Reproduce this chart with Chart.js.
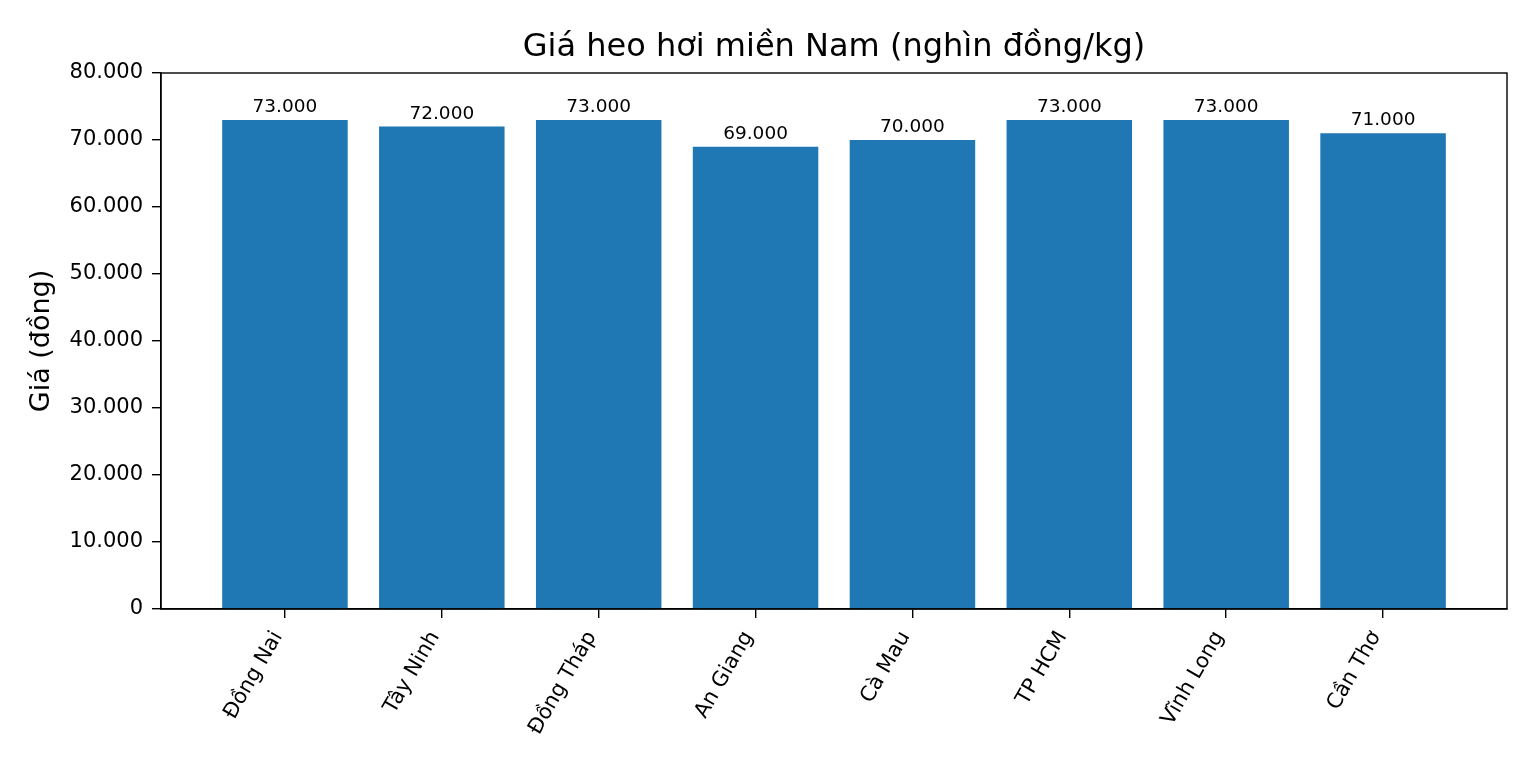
<!DOCTYPE html>
<html>
<head>
<meta charset="utf-8">
<script src="https://cdn.jsdelivr.net/npm/chart.js@4.4.1/dist/chart.umd.min.js"></script>
<style>
  body { margin: 0; background: #fff; }
  canvas { display: block; }
</style>
</head>
<body>
<canvas id="barChart" width="1535" height="768"></canvas>
<script>
const provinces = ['Đồng Nai', 'Tây Ninh', 'Đồng Tháp', 'An Giang', 'Cà Mau', 'TP HCM', 'Vĩnh Long', 'Cần Thơ'];
const prices = [73000, 72000, 73000, 69000, 70000, 73000, 73000, 71000];
const yTicks = [0, 10000, 20000, 30000, 40000, 50000, 60000, 70000, 80000];

const FONT = "'DejaVu Sans', sans-serif";

function formatVN(v) {
  return String(v).replace(/\B(?=(\d{3})+(?!\d))/g, '.');
}

// matplotlib style frame + value labels on top of bars
const framePlugin = {
  id: 'frame',
  afterDatasetsDraw(chart) {
    const { ctx, chartArea: a } = chart;
    ctx.save();
    ctx.strokeStyle = '#000';
    ctx.lineWidth = 1.4;
    ctx.strokeRect(a.left, a.top, a.right - a.left, a.bottom - a.top);

    const meta = chart.getDatasetMeta(0);
    ctx.fillStyle = '#000';
    ctx.font = '18.5px ' + FONT;
    ctx.textAlign = 'center';
    ctx.textBaseline = 'alphabetic';
    meta.data.forEach((bar, i) => {
      ctx.fillText(formatVN(prices[i]), bar.x, bar.y - 8);
    });
    ctx.restore();
  }
};

new Chart(document.getElementById('barChart').getContext('2d'), {
  type: 'bar',
  data: {
    datasets: [{
      data: prices.map((v, i) => ({ x: i, y: v })),
      backgroundColor: '#1f77b4',
      borderWidth: 0,
      barPercentage: 0.8,
      categoryPercentage: 1.0,
    }],
  },
  options: {
    responsive: false,
    animation: false,
    devicePixelRatio: 1,
    layout: { padding: { left: 0, right: 28, top: 0, bottom: 0 } },
    plugins: {
      legend: { display: false },
      tooltip: { enabled: false },
      title: {
        display: true,
        fullSize: false,
        text: 'Giá heo hơi miền Nam (nghìn đồng/kg)',
        color: '#000',
        font: { family: FONT, size: 32, weight: 'normal', lineHeight: 1.2 },
        padding: { top: 28, bottom: 6.6 },
      },
    },
    scales: {
      x: {
        type: 'linear',
        min: -0.79,
        max: 7.79,
        offset: false,
        afterBuildTicks(scale) {
          scale.ticks = provinces.map((p, i) => ({ value: i }));
        },
        afterFit(scale) { scale.height = 159; },
        grid: { display: true, offset: false, drawOnChartArea: false, tickLength: 9, color: '#000', lineWidth: 1.4 },
        border: { display: true, color: '#000', width: 1.4 },
        ticks: {
          autoSkip: false,
          minRotation: 60,
          maxRotation: 60,
          padding: 9,
          labelOffset: -7,
          color: '#000',
          font: { family: FONT, size: 21 },
          callback: (v) => provinces[v],
        },
      },
      y: {
        min: 0,
        max: 80000,
        afterBuildTicks(scale) {
          scale.ticks = yTicks.map(v => ({ value: v }));
        },
        afterFit(scale) { scale.width = 161; },
        grid: { display: true, drawOnChartArea: false, tickLength: 9, color: '#000', lineWidth: 1.4 },
        border: { display: true, color: '#000', width: 1.4 },
        ticks: {
          padding: 9,
          color: '#000',
          font: { family: FONT, size: 21 },
          callback: (v) => formatVN(v),
        },
        title: {
          display: true,
          text: 'Giá (đồng)',
          color: '#000',
          font: { family: FONT, size: 27 },
          padding: { top: 26, bottom: 0 },
        },
      },
    },
  },
  plugins: [framePlugin],
});
</script>
</body>
</html>
